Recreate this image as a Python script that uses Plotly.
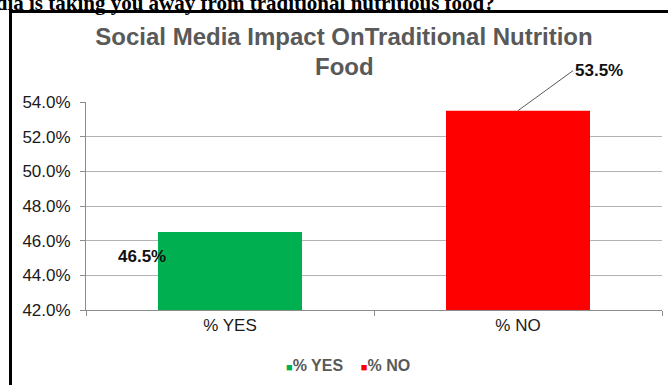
import plotly.graph_objects as go

categories = ["% YES", "% NO"]
values = [46.5, 53.5]
colors = ["#00B050", "#FF0000"]
title_line1 = "Social Media Impact OnTraditional Nutrition"
title_line2 = "Food"
heading = "Social media is taking you away from traditional nutritious food?"
y_ticks = [42, 44, 46, 48, 50, 52, 54]

W, H = 668, 385
L, R, T, B = 86, 6, 102, 75
PW, PH = W - L - R, H - T - B

def px_x(px):
    return (px - L) / PW

def px_y(py):
    return (H - B - py) / PH

SANS = "Liberation Sans, Arial, sans-serif"

fig = go.Figure()
fig.add_trace(go.Bar(
    x=categories, y=values, marker=dict(color=colors, line=dict(width=0)),
    width=0.5, showlegend=False, hoverinfo="x+y",
))

fig.update_layout(
    width=W, height=H,
    margin=dict(l=L, r=R, t=T, b=B),
    paper_bgcolor="white", plot_bgcolor="white",
    title=dict(text=title_line1, x=344 / W, xanchor="center", xref="container",
               y=1 - 28 / H, yanchor="top", yref="container",
               font=dict(family=SANS, size=24, color="#595959", weight="bold")),
    font=dict(family=SANS, size=17, color="#1a1a1a"),
    yaxis=dict(range=[42, 54], tickvals=y_ticks,
               ticktext=[f"{v:.1f}%" for v in y_ticks],
               showgrid=True, gridcolor="#b3b3b3", gridwidth=1,
               showline=True, linecolor="#8c8c8c", linewidth=1,
               ticks="outside", ticklen=5, tickcolor="#8c8c8c",
               zeroline=False, ticklabelstandoff=6,
               tickfont=dict(size=17, color="#1a1a1a")),
    xaxis=dict(showline=True, linecolor="#8c8c8c", linewidth=1,
               ticks="outside", ticklen=5, tickcolor="#8c8c8c",
               tickson="boundaries", showgrid=False,
               tickfont=dict(size=17, color="#1a1a1a")),
)

anns = []
# second title line
anns.append(dict(text=title_line2, xref="paper", yref="paper", x=px_x(344), y=px_y(51),
                 xanchor="center", yanchor="top", showarrow=False,
                 font=dict(family=SANS, size=24, color="#595959", weight="bold")))
# cropped heading (cut at the top edge, as in the source image)
anns.append(dict(text=heading, xref="paper", yref="paper", x=px_x(497), y=px_y(17),
                 xanchor="right", yanchor="bottom", showarrow=False,
                 font=dict(family="Liberation Serif, Times New Roman, serif", size=21,
                           color="black", weight="bold")))
# data labels
anns.append(dict(text=f"{values[0]:.1f}%", x=categories[0], y=values[0], xref="x", yref="y",
                 showarrow=False, xshift=-88, yshift=-24, xanchor="center", yanchor="middle",
                 font=dict(family=SANS, size=17, color="#111", weight="bold")))
anns.append(dict(text=f"{values[1]:.1f}%", x=categories[1], y=values[1], xref="x", yref="y",
                 showarrow=True, arrowhead=0, arrowwidth=1, arrowcolor="#595959",
                 ax=55, ay=-40, xanchor="left", yanchor="middle",
                 font=dict(family=SANS, size=17, color="#111", weight="bold")))
# legend
legend_html = "".join(
    f"<span style='font-size:11px;color:{c}'>■</span>{n}" + ("    " if i < len(categories) - 1 else "")
    for i, (n, c) in enumerate(zip(categories, colors))
)
anns.append(dict(text=legend_html, xref="paper", yref="paper", x=px_x(348), y=px_y(365),
                 xanchor="center", yanchor="middle", showarrow=False,
                 font=dict(family=SANS, size=16, color="#595959", weight="bold")))
fig.update_layout(annotations=anns)

# outer frame
fig.add_shape(type="rect", xref="paper", yref="paper",
              x0=px_x(10.5), x1=px_x(672), y0=px_y(400), y1=px_y(11.5),
              line=dict(color="black", width=3), fillcolor="rgba(0,0,0,0)", layer="above")

fig.write_html("out.html", config={"displayModeBar": False},
               post_script="document.body.style.margin='0';document.body.style.overflow='hidden';")
